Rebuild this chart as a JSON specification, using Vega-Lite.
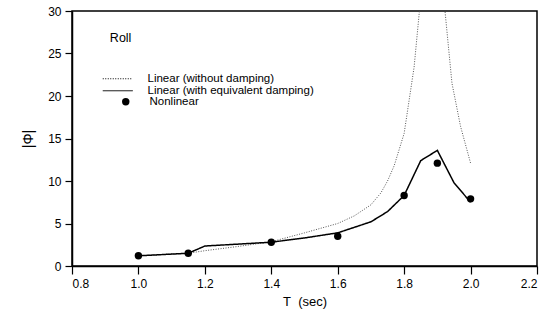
{
  "$schema": "https://vega.github.io/schema/vega-lite/v6.json",
  "width": 465,
  "height": 255,
  "autosize": {"type": "none"},
  "padding": {"left": 72, "top": 11, "right": 20, "bottom": 56},
  "background": "white",
  "config": {
    "view": {"stroke": "black", "strokeWidth": 1.5},
    "font": "Liberation Sans",
    "axis": {
      "grid": false,
      "domainColor": "black",
      "domainWidth": 1.5,
      "tickColor": "black",
      "tickWidth": 1.2,
      "labelColor": "black",
      "titleColor": "black",
      "labelFont": "Liberation Sans",
      "titleFont": "Liberation Sans",
      "labelFontSize": 12,
      "titleFontWeight": "normal"
    },
    "legend": {
      "labelFont": "Liberation Sans",
      "labelFontSize": 11.5,
      "labelColor": "black",
      "labelLimit": 400
    }
  },
  "datasets": {
    "curves": [
      {"T": 1.0, "value": 1.2, "series": "Linear (without damping)"},
      {"T": 1.1, "value": 1.4, "series": "Linear (without damping)"},
      {"T": 1.15, "value": 1.5, "series": "Linear (without damping)"},
      {"T": 1.2, "value": 1.8, "series": "Linear (without damping)"},
      {"T": 1.3, "value": 2.3, "series": "Linear (without damping)"},
      {"T": 1.4, "value": 2.85, "series": "Linear (without damping)"},
      {"T": 1.5, "value": 3.9, "series": "Linear (without damping)"},
      {"T": 1.6, "value": 5.0, "series": "Linear (without damping)"},
      {"T": 1.65, "value": 5.9, "series": "Linear (without damping)"},
      {"T": 1.7, "value": 7.2, "series": "Linear (without damping)"},
      {"T": 1.73, "value": 8.6, "series": "Linear (without damping)"},
      {"T": 1.75, "value": 10.0, "series": "Linear (without damping)"},
      {"T": 1.77, "value": 11.8, "series": "Linear (without damping)"},
      {"T": 1.8, "value": 15.6, "series": "Linear (without damping)"},
      {"T": 1.83, "value": 23.4, "series": "Linear (without damping)"},
      {"T": 1.846, "value": 30, "series": "Linear (without damping)"},
      {"T": 1.86, "value": 34, "series": "Linear (without damping)"},
      {"T": 1.91, "value": 34, "series": "Linear (without damping)"},
      {"T": 1.923, "value": 30, "series": "Linear (without damping)"},
      {"T": 1.944, "value": 21.5, "series": "Linear (without damping)"},
      {"T": 1.97, "value": 16.4, "series": "Linear (without damping)"},
      {"T": 2.0, "value": 12.1, "series": "Linear (without damping)"},
      {"T": 1.0, "value": 1.2, "series": "Linear (with equivalent damping)"},
      {"T": 1.15, "value": 1.5, "series": "Linear (with equivalent damping)"},
      {"T": 1.2, "value": 2.35, "series": "Linear (with equivalent damping)"},
      {"T": 1.4, "value": 2.8, "series": "Linear (with equivalent damping)"},
      {"T": 1.5, "value": 3.3, "series": "Linear (with equivalent damping)"},
      {"T": 1.6, "value": 3.9, "series": "Linear (with equivalent damping)"},
      {"T": 1.7, "value": 5.2, "series": "Linear (with equivalent damping)"},
      {"T": 1.75, "value": 6.4, "series": "Linear (with equivalent damping)"},
      {"T": 1.8, "value": 8.3, "series": "Linear (with equivalent damping)"},
      {"T": 1.85, "value": 12.4, "series": "Linear (with equivalent damping)"},
      {"T": 1.9, "value": 13.6, "series": "Linear (with equivalent damping)"},
      {"T": 1.95, "value": 9.8, "series": "Linear (with equivalent damping)"},
      {"T": 2.0, "value": 7.5, "series": "Linear (with equivalent damping)"}
    ],
    "points": [
      {"T": 1.0, "value": 1.2, "series": "Nonlinear"},
      {"T": 1.15, "value": 1.5, "series": "Nonlinear"},
      {"T": 1.4, "value": 2.8, "series": "Nonlinear"},
      {"T": 1.6, "value": 3.5, "series": "Nonlinear"},
      {"T": 1.8, "value": 8.3, "series": "Nonlinear"},
      {"T": 1.9, "value": 12.1, "series": "Nonlinear"},
      {"T": 2.0, "value": 7.9, "series": "Nonlinear"}
    ],
    "labels": [
      {"T": 0.914, "value": 26.8, "label": "Roll"}
    ]
  },
  "encoding": {
    "x": {
      "field": "T",
      "type": "quantitative",
      "scale": {"domain": [0.8, 2.2], "nice": false, "zero": false},
      "axis": {
        "title": "T\u00a0\u00a0(sec)",
        "values": [0.8, 1.0, 1.2, 1.4, 1.6, 1.8, 2.0, 2.2],
        "format": ".1f",
        "tickSize": 8,
        "labelPadding": 4,
        "titleFontSize": 13,
        "titlePadding": 6
      }
    },
    "y": {
      "field": "value",
      "type": "quantitative",
      "scale": {"domain": [0, 30], "nice": false},
      "axis": {
        "title": "|Φ|",
        "values": [0, 5, 10, 15, 20, 25, 30],
        "tickSize": 7,
        "labelPadding": 4,
        "titleFontSize": 14,
        "titlePadding": 12
      }
    }
  },
  "layer": [
    {
      "data": {"name": "curves"},
      "transform": [{"filter": "datum.series === 'Linear (without damping)'"}],
      "mark": {"type": "line", "clip": true, "color": "#555555", "strokeWidth": 1},
      "encoding": {
        "strokeDash": {
          "field": "series",
          "type": "nominal",
          "scale": {
            "domain": ["Linear (without damping)", "Linear (with equivalent damping)"],
            "range": [[1, 1.5], [1, 0]]
          },
          "legend": {
            "title": null,
            "orient": "none",
            "legendX": 40,
            "legendY": 62,
            "symbolType": "M-3,0H3",
            "symbolSize": 100,
            "symbolStrokeColor": "black",
            "symbolStrokeWidth": 1,
            "labelOffset": 24,
            "rowPadding": -3
          }
        }
      }
    },
    {
      "data": {"name": "curves"},
      "transform": [{"filter": "datum.series === 'Linear (with equivalent damping)'"}],
      "mark": {"type": "line", "clip": true, "color": "black", "strokeWidth": 1.5},
      "encoding": {
        "strokeDash": {
          "field": "series",
          "type": "nominal"
        }
      }
    },
    {
      "data": {"name": "points"},
      "mark": {"type": "point", "filled": true, "color": "black", "size": 55, "opacity": 1},
      "encoding": {
        "shape": {
          "field": "series",
          "type": "nominal",
          "scale": {"domain": ["Nonlinear"], "range": ["circle"]},
          "legend": {
            "title": null,
            "orient": "none",
            "legendX": 48,
            "legendY": 85,
            "symbolSize": 55,
            "symbolFillColor": "black",
            "symbolStrokeColor": "black",
            "symbolOpacity": 1,
            "labelOffset": 18
          }
        }
      }
    },
    {
      "data": {"name": "labels"},
      "mark": {"type": "text", "align": "left", "baseline": "middle", "fontSize": 12.5, "font": "Liberation Sans", "color": "black"},
      "encoding": {
        "text": {"field": "label"}
      }
    }
  ]
}
